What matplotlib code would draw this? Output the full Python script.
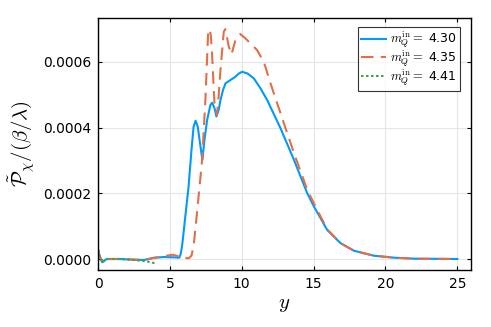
import numpy as np
import matplotlib
matplotlib.use("Agg")
import matplotlib.pyplot as plt
from matplotlib.ticker import FormatStrFormatter

# data (y values in units of 1e-4)
x_430 = [0.0, 0.1, 0.3, 0.6, 1.5, 2.5, 3.2, 3.9, 4.6, 5.3, 5.65, 5.75, 5.85, 5.95,
         6.1, 6.3, 6.5, 6.65, 6.79, 6.93, 7.07, 7.26, 7.4, 7.59, 7.82, 7.94, 8.1,
         8.24, 8.4, 8.52, 8.7, 8.87, 9.21, 9.56, 9.8, 10.03, 10.4, 10.84, 11.3,
         11.77, 12.7, 13.63, 14.56, 15.02, 15.95, 16.88, 17.81, 19.2, 20.6, 22.0, 25.0]
y_430 = [0.3, 0.1, -0.1, 0.0, 0.0, -0.02, -0.03, 0.04, 0.06, 0.05, 0.04, 0.15, 0.4, 0.79,
         1.4, 2.2, 3.3, 4.03, 4.21, 4.05, 3.62, 3.02, 3.6, 4.23, 4.69, 4.76, 4.6,
         4.34, 4.55, 4.84, 5.15, 5.35, 5.45, 5.55, 5.65, 5.7, 5.65, 5.5, 5.2,
         4.84, 3.98, 3.02, 2.0, 1.6, 0.88, 0.48, 0.25, 0.1, 0.04, 0.01, 0.0]

x_435 = [0.0, 0.1, 0.3, 0.6, 1.5, 2.5, 3.2, 3.9, 4.5, 5.2, 5.8, 6.3, 6.5, 6.65,
         6.93, 7.24, 7.47, 7.66, 7.77, 7.85, 7.93, 8.1, 8.28, 8.4, 8.52, 8.75,
         8.85, 8.95, 9.1, 9.29, 9.56, 9.9, 10.25, 10.6, 11.07, 11.54, 12.0,
         13.05, 13.63, 14.56, 15.3, 15.95, 16.88, 17.81, 19.2, 20.6, 22.0, 25.0]
y_435 = [0.3, 0.1, -0.1, 0.0, 0.0, -0.02, -0.03, 0.03, 0.08, 0.13, 0.06, 0.02, 0.1, 0.375,
         1.6, 3.0, 4.84, 6.87, 7.0, 6.8, 6.27, 4.75, 4.39, 5.0, 5.76, 6.92,
         7.0, 6.8, 6.47, 6.23, 6.67, 6.85, 6.72, 6.57, 6.36, 6.0, 5.35,
         3.98, 3.23, 2.1, 1.45, 0.9, 0.48, 0.25, 0.1, 0.04, 0.01, 0.0]

x_441 = [0.0, 0.1, 0.3, 0.6, 1.5, 2.5, 3.2, 3.7, 4.1]
y_441 = [0.3, 0.1, -0.1, 0.0, 0.0, -0.03, -0.06, -0.1, -0.15]

labels = ["4.30", "4.35", "4.41"]
colors = ["#009AFA", "#E36F47", "#3EA44E"]

plt.rcParams["mathtext.fontset"] = "cm"
plt.rcParams["font.family"] = "DejaVu Sans"

fig = plt.figure(figsize=(4.91, 3.27), dpi=100)
ax = fig.add_axes([0.1996, 0.1743, 0.7594, 0.7707])

ax.plot(x_430, np.array(y_430) * 1e-4, color=colors[0], lw=1.5,
        label=r"$m_Q^{\rm in} =$ " + labels[0])
ax.plot(x_435, np.array(y_435) * 1e-4, color=colors[1], lw=1.5, dashes=(6, 3.5),
        label=r"$m_Q^{\rm in} =$ " + labels[1])
ax.plot(x_441, np.array(y_441) * 1e-4, color=colors[2], lw=1.5, ls=(0, (1.2, 1.2)),
        label=r"$m_Q^{\rm in} =$ " + labels[2])

ax.set_xlim(0, 25.94)
ax.set_ylim(-0.0000335, 0.000734)
ax.set_xticks([0, 5, 10, 15, 20, 25])
ax.set_yticks([0, 0.0002, 0.0004, 0.0006])
ax.yaxis.set_major_formatter(FormatStrFormatter("%.4f"))
ax.grid(True, color="#e6e6e6", lw=0.8)
ax.set_axisbelow(True)
ax.tick_params(direction="in", top=True, right=True, length=3, labelsize=10, pad=5)
for s in ax.spines.values():
    s.set_linewidth(1.0)

ax.set_xlabel(r"$y$", fontsize=15, labelpad=2)
ax.set_ylabel(r"$\tilde{\mathcal{P}}_\chi/(\beta/\lambda)$", fontsize=15, labelpad=4)

leg = ax.legend(loc="upper right", bbox_to_anchor=(0.97, 0.965), fontsize=9,
                frameon=True, fancybox=False, handlelength=2.0, handletextpad=0.25,
                borderpad=0.25, labelspacing=-0.1, borderaxespad=0.0)
leg.get_frame().set_edgecolor("black")
leg.get_frame().set_linewidth(0.8)

fig.savefig("out.png", dpi=100)
